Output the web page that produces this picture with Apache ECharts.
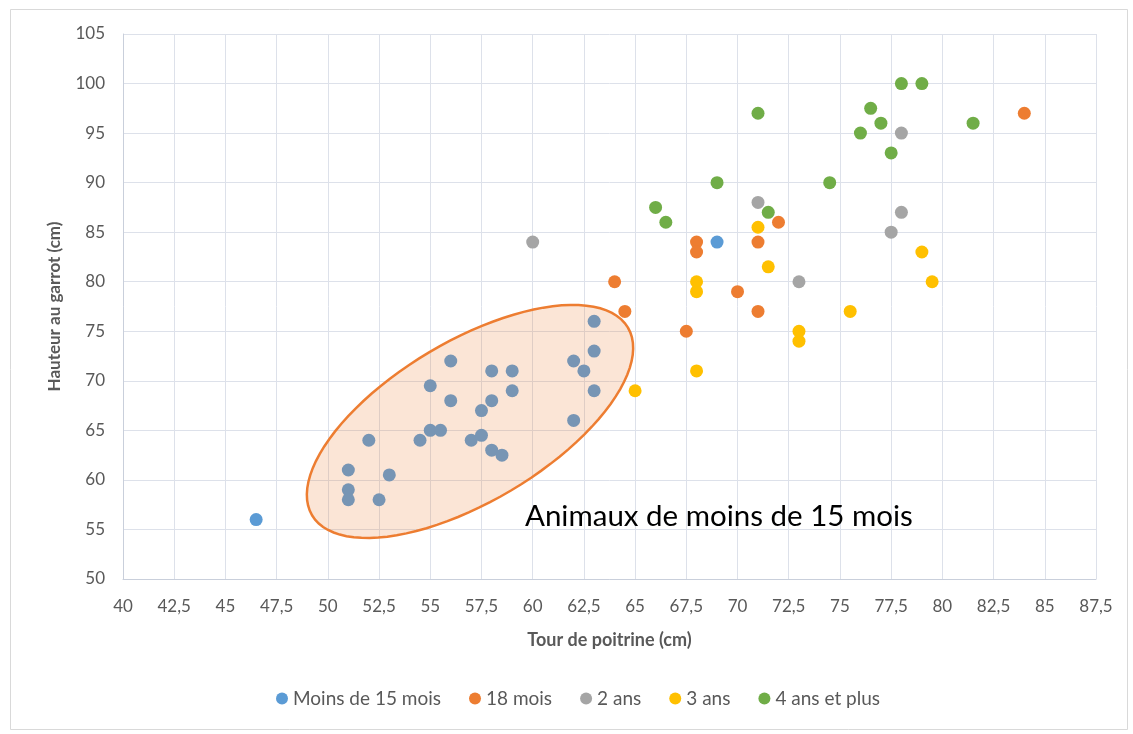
<!DOCTYPE html>
<html>
<head>
<meta charset="utf-8">
<style>
  html, body { margin: 0; padding: 0; background: #fff; }
  #chart { width: 1133px; height: 734px; }
</style>
<script src="https://cdn.jsdelivr.net/npm/echarts@6/dist/echarts.min.js"></script>
</head>
<body>
<div id="chart"></div>
<script>
// Tour de poitrine (cm), Hauteur au garrot (cm)
var moins15 = [
  [46.5, 56], [69, 84],
  [63, 76], [63, 73], [62, 72], [62.5, 71], [63, 69], [62, 66],
  [56, 72], [58, 71], [59, 71], [55, 69.5], [56, 68], [58, 68], [59, 69],
  [57.5, 67], [55, 65], [55.5, 65], [54.5, 64], [57, 64], [57.5, 64.5],
  [58, 63], [58.5, 62.5], [52, 64], [51, 61], [53, 60.5], [51, 59], [51, 58], [52.5, 58]
];
var mois18 = [
  [84, 97], [72, 86], [68, 84], [68, 83], [71, 84], [64, 80],
  [70, 79], [64.5, 77], [71, 77], [67.5, 75]
];
var ans2 = [
  [60, 84], [78, 95], [71, 88], [78, 87], [77.5, 85], [73, 80]
];
var ans3 = [
  [71, 85.5], [79, 83], [79.5, 80], [71.5, 81.5], [68, 80], [68, 79],
  [75.5, 77], [73, 75], [73, 74], [68, 71], [65, 69]
];
var ans4plus = [
  [78, 100], [79, 100], [71, 97], [76.5, 97.5], [77, 96], [76, 95],
  [81.5, 96], [77.5, 93], [69, 90], [74.5, 90], [66, 87.5], [66.5, 86], [71.5, 87]
];
var seriesNames = ['Moins de 15 mois', '18 mois', '2 ans', '3 ans', '4 ans et plus'];
var colors = ['#5B9BD5', '#ED7D31', '#A5A5A5', '#FFC000', '#70AD47'];

// ellipse annotation (data units): centre and two half-axis vectors
var ellCentre = [56.94, 65.9];
var ellAxisA = [7.71, 9.47];
var ellAxisB = [2.0, -6.97];
var noteText = 'Animaux de moins de 15 mois';

var chart = echarts.init(document.getElementById('chart'));
var font = 'Lato, "Open Sans", sans-serif';
var txtColor = '#595959';

function fmt(v) {
  return String(v).replace('.', ',');
}

var allData = [moins15, mois18, ans2, ans3, ans4plus];
var series = allData.map(function (d, i) {
  return {
    name: seriesNames[i],
    type: 'scatter',
    data: d,
    symbolSize: 13,
    itemStyle: { color: colors[i], opacity: 1 },
    z: 2
  };
});

series.push({
  type: 'custom',
  name: 'ellipse',
  data: [ellCentre],
  z: 5,
  silent: true,
  renderItem: function (params, api) {
    var pts = [];
    for (var k = 0; k < 96; k++) {
      var t = k / 96 * Math.PI * 2;
      pts.push(api.coord([
        ellCentre[0] + Math.cos(t) * ellAxisA[0] + Math.sin(t) * ellAxisB[0],
        ellCentre[1] + Math.cos(t) * ellAxisA[1] + Math.sin(t) * ellAxisB[1]
      ]));
    }
    return {
      type: 'polygon',
      shape: { points: pts, smooth: 0 },
      style: {
        fill: 'rgba(237,125,49,0.2)',
        stroke: '#ED7D31',
        lineWidth: 2.5
      }
    };
  }
});

var option = {
  backgroundColor: '#fff',
  animation: false,
  textStyle: { fontFamily: font },
  grid: { left: 123, right: 37, top: 34, bottom: 155 },
  legend: {
    data: seriesNames,
    bottom: 21,
    left: 271,
    icon: 'circle',
    itemWidth: 12,
    itemHeight: 12,
    itemGap: 28,
    textStyle: { color: txtColor, fontSize: 19, fontFamily: font }
  },
  xAxis: {
    type: 'value',
    min: 40,
    max: 87.5,
    interval: 2.5,
    name: 'Tour de poitrine (cm)',
    nameLocation: 'middle',
    nameGap: 52,
    nameTextStyle: { color: txtColor, fontSize: 18, fontWeight: 'bold', fontFamily: font },
    axisLine: { show: true, lineStyle: { color: '#C9CFDB' } },
    axisTick: { show: false },
    axisLabel: { color: txtColor, fontSize: 17, margin: 19, formatter: fmt },
    splitLine: { show: true, lineStyle: { color: '#DDE1EA' } }
  },
  yAxis: {
    type: 'value',
    min: 50,
    max: 105,
    interval: 5,
    name: 'Hauteur au garrot (cm)',
    nameLocation: 'middle',
    nameGap: 60,
    nameTextStyle: { color: txtColor, fontSize: 17, fontWeight: 'bold', fontFamily: font },
    axisLine: { show: true, lineStyle: { color: '#C9CFDB' } },
    axisTick: { show: false },
    axisLabel: { color: txtColor, fontSize: 17, margin: 18 },
    splitLine: { show: true, lineStyle: { color: '#DDE1EA' } }
  },
  graphic: [
    {
      type: 'rect',
      left: 8,
      top: 7,
      shape: { width: 1117, height: 720 },
      style: { fill: 'none', stroke: '#D9D9D9', lineWidth: 1 },
      z: -10
    },
    {
      type: 'text',
      left: 525,
      top: 501,
      z: 10,
      style: { text: noteText, fill: '#000', font: '29.5px ' + font }
    }
  ],
  series: series
};

chart.setOption(option);
</script>
</body>
</html>
